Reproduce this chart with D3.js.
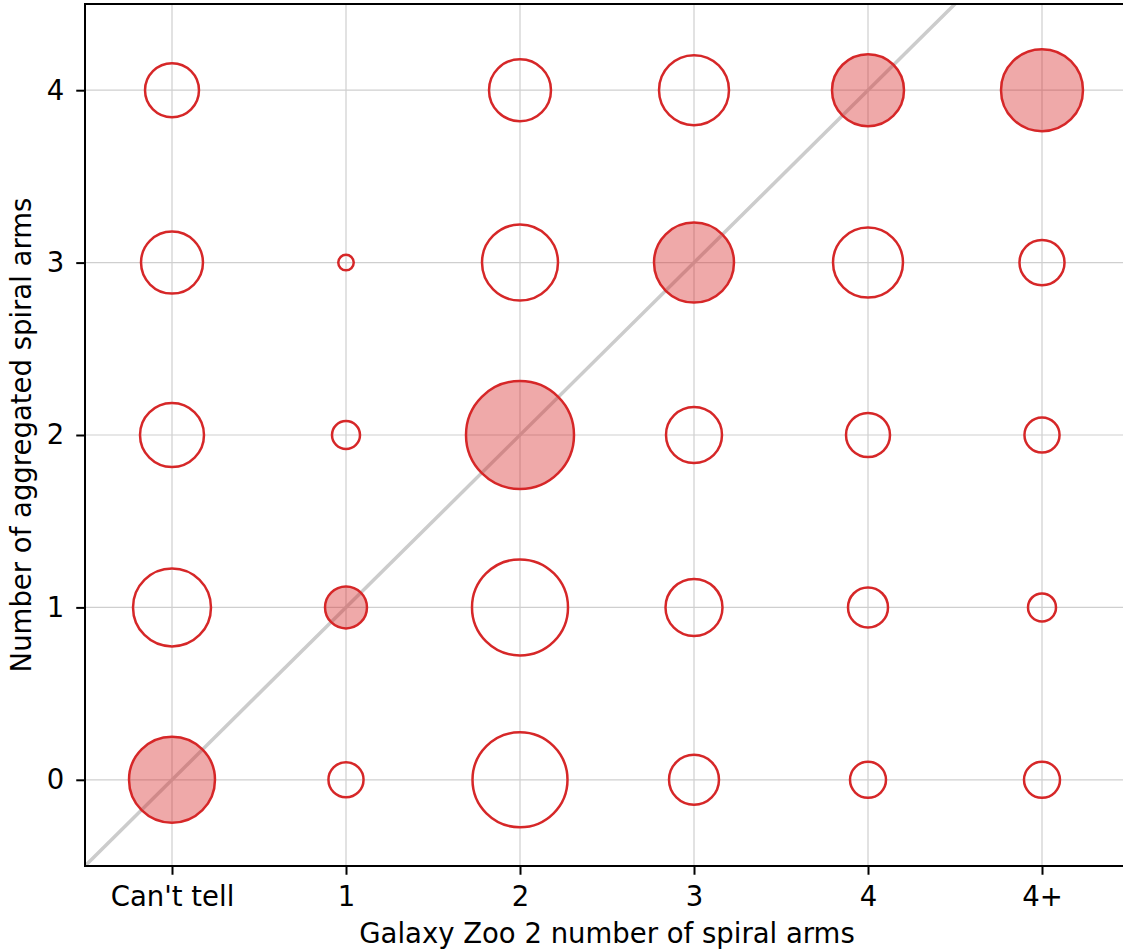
<!DOCTYPE html>
<html>
<head>
<meta charset="utf-8">
<script src="https://cdn.jsdelivr.net/npm/d3@7"></script>
<style>
  html, body { margin: 0; padding: 0; background: #fff; }
  svg { display: block; font-family: "DejaVu Sans", sans-serif; }
</style>
</head>
<body>
<svg id="chart" width="1123" height="949"></svg>
<script>
// ---- data ----
const xCategories = ["Can't tell", "1", "2", "3", "4", "4+"];
const matchingY = [0, 1, 2, 3, 4, 4];   // aggregated value that agrees with each GZ2 category
const yCategories = [0, 1, 2, 3, 4];
// counts per aggregated arm number (rows) for each GZ2 category (columns)
const counts0 = [462, 77, 564, 156, 81, 81];
const counts1 = [380, 110, 576, 203, 100, 49];
const counts2 = [256, 49, 729, 196, 121, 77];
const counts3 = [240, 15, 361, 400, 306, 127];
const counts4 = [182, 0, 240, 306, 324, 420];
const countRows = [counts0, counts1, counts2, counts3, counts4];
const xLabel = "Galaxy Zoo 2 number of spiral arms";
const yLabel = "Number of aggregated spiral arms";

// ---- layout ----
const svg = d3.select("#chart");
const x = d3.scaleLinear().domain([-0.5, 5.5]).range([85, 1129]);
const y = d3.scaleLinear().domain([-0.5, 4.5]).range([866, 4]);
const r = d3.scaleSqrt().domain([0, 729]).range([0, 54]);
const red = "#d62728";
const fs = "27.5px";

const points = [];
countRows.forEach((row, yi) => row.forEach((c, xi) => {
  if (c > 0) points.push({xi, yv: yCategories[yi], c, match: matchingY[xi] === yCategories[yi]});
}));

svg.append("defs").append("clipPath").attr("id", "clip")
  .append("rect").attr("x", x(-0.5)).attr("y", y(4.5))
  .attr("width", x(5.5) - x(-0.5)).attr("height", y(-0.5) - y(4.5));

const plot = svg.append("g").attr("clip-path", "url(#clip)");

// grid
plot.selectAll("line.gx").data(d3.range(xCategories.length)).join("line")
  .attr("x1", d => x(d)).attr("x2", d => x(d))
  .attr("y1", y(-0.5)).attr("y2", y(4.5))
  .attr("stroke", "#cfcfcf").attr("stroke-width", 1.2);
plot.selectAll("line.gy").data(yCategories).join("line")
  .attr("y1", d => y(d)).attr("y2", d => y(d))
  .attr("x1", x(-0.5)).attr("x2", x(5.5))
  .attr("stroke", "#cfcfcf").attr("stroke-width", 1.2);

// diagonal y = x
plot.append("line")
  .attr("x1", x(-0.5)).attr("y1", y(-0.5))
  .attr("x2", x(5.5)).attr("y2", y(5.5))
  .attr("stroke", "#cccccc").attr("stroke-width", 3.5);

// circles
plot.selectAll("circle").data(points).join("circle")
  .attr("cx", d => x(d.xi)).attr("cy", d => y(d.yv))
  .attr("r", d => r(d.c))
  .attr("fill", d => d.match ? red : "none")
  .attr("fill-opacity", 0.4)
  .attr("stroke", red).attr("stroke-width", 2.5);

// axes
const xAxis = d3.axisBottom(x).tickValues(d3.range(xCategories.length))
  .tickFormat(i => xCategories[i]).tickSize(8.75).tickPadding(12);
const yAxis = d3.axisLeft(y).tickValues(yCategories)
  .tickFormat(d3.format("d")).tickSize(8.75).tickPadding(12);

const gx = svg.append("g").attr("transform", `translate(0,${y(-0.5)})`).call(xAxis);
const gy = svg.append("g").attr("transform", `translate(${x(-0.5)},0)`).call(yAxis);
[gx, gy].forEach(g => {
  g.select(".domain").remove();
  g.selectAll(".tick line").attr("stroke", "#000").attr("stroke-width", 2);
  g.selectAll(".tick text").attr("fill", "#000")
    .style("font-size", fs).style("font-family", "DejaVu Sans");
});

// spines
svg.append("rect")
  .attr("x", x(-0.5)).attr("y", y(4.5))
  .attr("width", x(5.5) - x(-0.5)).attr("height", y(-0.5) - y(4.5))
  .attr("fill", "none").attr("stroke", "#000").attr("stroke-width", 2);

// axis labels
svg.append("text").attr("x", (x(-0.5) + x(5.5)) / 2).attr("y", 943)
  .attr("text-anchor", "middle").style("font-size", fs).text(xLabel);
svg.append("text")
  .attr("transform", `translate(31,${(y(-0.5) + y(4.5)) / 2}) rotate(-90)`)
  .attr("text-anchor", "middle").style("font-size", fs).text(yLabel);
</script>
</body>
</html>
